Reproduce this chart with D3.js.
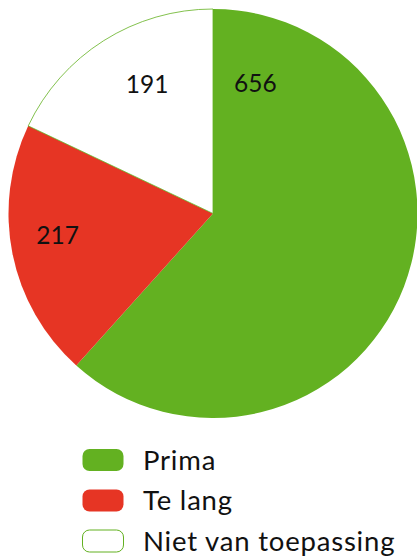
<!DOCTYPE html>
<html>
<head>
<meta charset="utf-8">
<script src="https://cdn.jsdelivr.net/npm/d3@7"></script>
<style>
  body { margin: 0; background: #fff; }
  text { font-family: Lato, "Noto Sans", sans-serif; fill: #111; }
</style>
</head>
<body>
<script>
var categories = ['Prima', 'Te lang', 'Niet van toepassing'],
    values = [656, 217, 191];

var fills = ['#63b121', '#e63524', '#ffffff'],
    strokes = ['#63b121', '#e63524', '#63b121'];

// where the value labels sit: angle (deg, clockwise from top) and distance from centre
var labelAngle = [18, 262, 333],
    labelDist = [137, 157, 145];

var width = 417,
    height = 556,
    cx = 213,
    cy = 213.5,
    radius = 204.5;

var svg = d3.select('body')
  .append('svg')
  .attr('width', width)
  .attr('height', height);

var pie = d3.pie().sort(null).value(function(d) { return d; });

var arc = d3.arc().innerRadius(0).outerRadius(radius);

var g = svg.append('g')
  .attr('transform', 'translate(' + cx + ',' + cy + ')');

var arcs = pie(values);

g.selectAll('path')
  .data(arcs)
  .enter().append('path')
  .attr('d', arc)
  .attr('fill', function(d, i) { return fills[i]; })
  .attr('stroke', function(d, i) { return strokes[i]; })
  .attr('stroke-width', function(d, i) { return i == 2 ? 0.8 : 0; });

g.selectAll('text')
  .data(arcs)
  .enter().append('text')
  .attr('x', function(d, i) { return labelDist[i] * Math.sin(labelAngle[i] * Math.PI / 180); })
  .attr('y', function(d, i) { return -labelDist[i] * Math.cos(labelAngle[i] * Math.PI / 180); })
  .attr('dy', '0.36em')
  .attr('text-anchor', 'middle')
  .style('font-size', '24.5px')
  .text(function(d) { return d.data; });

// legend
var legend = svg.append('g')
  .attr('transform', 'translate(82,460)');

var row = d3.scaleBand()
  .domain(categories)
  .range([0, 121.5]);

var item = legend.selectAll('g')
  .data(categories)
  .enter().append('g')
  .attr('transform', function(d) { return 'translate(0,' + row(d) + ')'; });

item.append('rect')
  .attr('x', 0.5)
  .attr('y', -11)
  .attr('width', 41)
  .attr('height', 22)
  .attr('rx', 7)
  .attr('fill', function(d, i) { return fills[i]; })
  .attr('stroke', function(d, i) { return strokes[i]; })
  .attr('stroke-width', function(d, i) { return i == 2 ? 1 : 0; });

item.append('text')
  .attr('x', 61)
  .attr('dy', '0.36em')
  .style('font-size', '27.5px')
  .style('letter-spacing', '0.8px')
  .text(function(d) { return d; });
</script>
</body>
</html>
